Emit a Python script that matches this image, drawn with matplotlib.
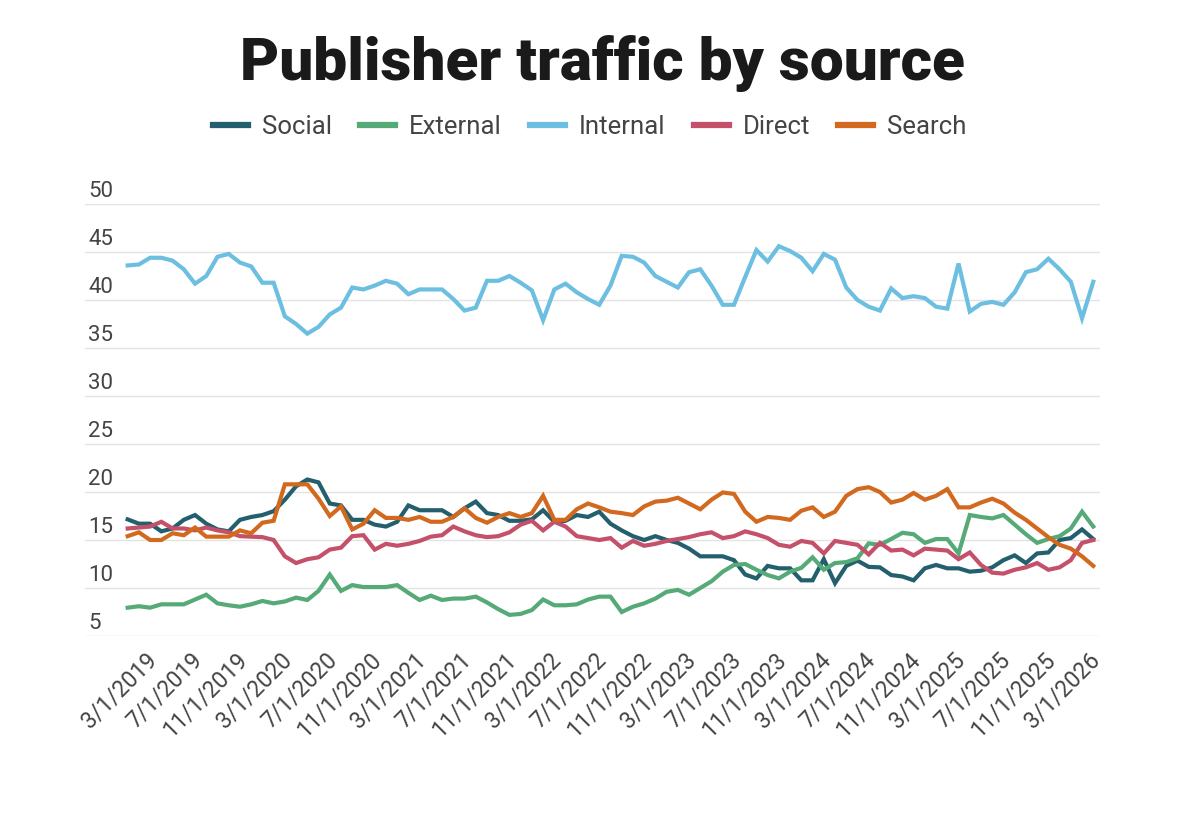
import matplotlib
matplotlib.use("Agg")
import matplotlib.pyplot as plt
import matplotlib.transforms as mtransforms
import pandas as pd

plt.rcParams['font.family'] = ['Roboto', 'DejaVu Sans']

# monthly data, 1/1/2019 .. 3/1/2026
months = pd.date_range('2019-01-01', '2026-03-01', freq='MS')
month_labels = [f"{m.month}/1/{m.year}" for m in months]

social = [17.15, 16.7, 16.7, 15.9, 16.2, 17.1, 17.6, 16.7, 16.1, 15.9,
          17.1, 17.4, 17.6, 18.0, 19.2, 20.6, 21.3, 21.0, 18.8, 18.6,
          17.1, 17.1, 16.6, 16.4, 16.9, 18.6, 18.1, 18.1, 18.1, 17.4,
          18.3, 19.0, 17.8, 17.6, 17.0, 17.0, 17.15, 18.1, 16.9, 17.0,
          17.6, 17.4, 17.95, 16.7, 16.0, 15.4, 15.0, 15.4, 15.0, 14.7,
          14.1, 13.3, 13.3, 13.3, 12.9, 11.4, 11.0, 12.3, 12.05, 12.05,
          10.8, 10.8, 13.0, 10.5, 12.3, 12.85, 12.2, 12.15, 11.35, 11.2,
          10.8, 12.05, 12.4, 12.05, 12.05, 11.7, 11.8, 12.15, 12.9, 13.4,
          12.6, 13.6, 13.7, 15.0, 15.2, 16.1, 15.1]

external = [7.95, 8.1, 7.95, 8.3, 8.3, 8.3, 8.8, 9.3, 8.4, 8.2,
            8.05, 8.3, 8.65, 8.4, 8.6, 9.0, 8.75, 9.7, 11.4, 9.7,
            10.3, 10.1, 10.1, 10.1, 10.3, 9.5, 8.75, 9.2, 8.75, 8.9,
            8.9, 9.1, 8.5, 7.8, 7.2, 7.3, 7.7, 8.8, 8.2, 8.2,
            8.3, 8.8, 9.1, 9.1, 7.5, 8.05, 8.4, 8.9, 9.6, 9.8,
            9.3, 10.0, 10.7, 11.7, 12.4, 12.5, 11.9, 11.35, 11.0, 11.7,
            12.1, 13.2, 11.9, 12.6, 12.7, 13.1, 14.65, 14.5, 15.1, 15.75,
            15.6, 14.7, 15.1, 15.1, 13.6, 17.6, 17.4, 17.25, 17.6, 16.6,
            15.6, 14.7, 15.1, 15.4, 16.2, 17.95, 16.4]

internal = [43.6, 43.7, 44.4, 44.4, 44.1, 43.2, 41.7, 42.5, 44.5, 44.8,
            43.9, 43.5, 41.8, 41.8, 38.3, 37.5, 36.5, 37.2, 38.5, 39.2,
            41.3, 41.1, 41.5, 42.0, 41.7, 40.6, 41.1, 41.1, 41.1, 40.1,
            38.9, 39.2, 42.0, 42.0, 42.5, 41.8, 41.0, 37.9, 41.1, 41.7,
            40.8, 40.1, 39.5, 41.5, 44.6, 44.5, 43.9, 42.5, 41.9, 41.3,
            42.9, 43.2, 41.5, 39.5, 39.5, 42.4, 45.2, 44.0, 45.6, 45.1,
            44.4, 43.0, 44.8, 44.2, 41.3, 40.0, 39.3, 38.9, 41.2, 40.2,
            40.4, 40.2, 39.3, 39.1, 43.8, 38.8, 39.6, 39.8, 39.5, 40.8,
            42.9, 43.2, 44.3, 43.2, 41.9, 38.1, 41.9]

direct = [16.2, 16.3, 16.4, 16.9, 16.2, 16.2, 16.0, 16.3, 16.0, 15.8,
          15.4, 15.35, 15.3, 15.0, 13.3, 12.6, 13.0, 13.2, 14.0, 14.2,
          15.4, 15.5, 14.0, 14.6, 14.4, 14.6, 14.9, 15.35, 15.5, 16.4,
          15.9, 15.5, 15.3, 15.4, 15.8, 16.6, 17.0, 16.0, 16.9, 16.4,
          15.4, 15.2, 15.0, 15.2, 14.2, 14.9, 14.4, 14.6, 14.9, 15.1,
          15.3, 15.6, 15.8, 15.2, 15.4, 15.9, 15.6, 15.2, 14.5, 14.3,
          14.9, 14.7, 13.6, 14.9, 14.7, 14.5, 13.5, 14.7, 13.9, 14.0,
          13.4, 14.1, 14.0, 13.9, 13.0, 13.7, 12.4, 11.6, 11.5, 11.9,
          12.15, 12.6, 11.9, 12.15, 12.9, 14.7, 15.0]

search = [15.4, 15.8, 15.0, 15.0, 15.7, 15.5, 16.3, 15.35, 15.35, 15.35,
          16.0, 15.7, 16.8, 17.0, 20.8, 20.8, 20.8, 19.3, 17.5, 18.5,
          16.1, 16.7, 18.1, 17.3, 17.3, 17.1, 17.4, 16.9, 16.9, 17.4,
          18.3, 17.3, 16.8, 17.4, 17.8, 17.4, 17.8, 19.6, 17.1, 17.1,
          18.2, 18.8, 18.4, 17.95, 17.8, 17.6, 18.5, 19.0, 19.1, 19.4,
          18.8, 18.2, 19.2, 19.95, 19.8, 17.95, 16.9, 17.4, 17.3, 17.1,
          18.05, 18.4, 17.4, 17.95, 19.6, 20.3, 20.5, 20.0, 18.9, 19.2,
          19.9, 19.2, 19.6, 20.3, 18.4, 18.4, 18.9, 19.3, 18.8, 17.85,
          17.1, 16.2, 15.3, 14.5, 14.1, 13.3, 12.3]

series_names = ['Social', 'External', 'Internal', 'Direct', 'Search']
series_values = [social, external, internal, direct, search]
colors = ['#245f6e', '#56aa77', '#6cbfe0', '#c4506a', '#d2691f']

y_ticks = [5, 10, 15, 20, 25, 30, 35, 40, 45, 50]

fig = plt.figure(figsize=(12, 8.27), dpi=100)
ax = fig.add_axes([85 / 1200, 1 - 636 / 827, 1015 / 1200, 432 / 827])

x = list(range(len(months)))
for name, vals, col in zip(series_names, series_values, colors):
    ax.plot(x, vals, color=col, lw=3.0, label=name, solid_joinstyle='miter')

ax.set_xlim(-3.8, len(months) - 1 + 0.6)
ax.set_ylim(5, 50)

# gridlines with labels sitting on top of them
ax.set_yticks(y_ticks)
ax.yaxis.grid(True, color='#e3e3e3', lw=1)
ax.set_axisbelow(True)
ax.tick_params(axis='y', length=0, labelleft=False)
trans = mtransforms.blended_transform_factory(ax.transAxes, ax.transData)
for t in y_ticks:
    ax.text(0.003, t + 0.2, str(t), transform=trans, ha='left', va='bottom',
            fontsize=16, color='#444444')

tick_idx = x[2::4]
ax.set_xticks(tick_idx)
ax.set_xticklabels([month_labels[i] for i in tick_idx], rotation=45,
                   ha='right', rotation_mode='anchor', fontsize=16.5,
                   color='#444444')
ax.tick_params(axis='x', length=0, pad=9)
shift = mtransforms.ScaledTranslation(-5 / 100, 0, fig.dpi_scale_trans)
for lbl in ax.get_xticklabels():
    lbl.set_transform(lbl.get_transform() + shift)

for s in ax.spines.values():
    s.set_visible(False)

fig.text(0.502, 1 - 63 / 827, 'Publisher traffic by source', ha='center',
         va='center', fontsize=43.5, fontweight='black', color='#1a1a1a')

fig.legend(loc='center', bbox_to_anchor=(0.4917, 1 - 127 / 827), ncol=5,
           frameon=False, fontsize=18.5, handlelength=1.35, handletextpad=0.55,
           columnspacing=1.1, labelcolor='#444444')
for lh in fig.legends[0].get_lines():
    lh.set_linewidth(4.5)

fig.savefig('out.png', dpi=100, facecolor='white')
